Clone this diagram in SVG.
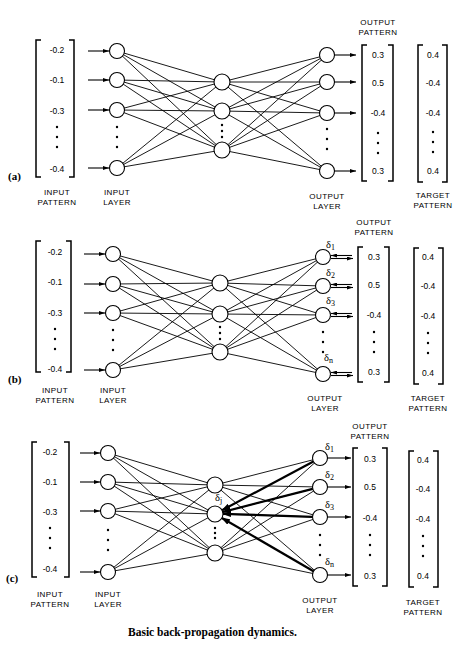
<svg xmlns="http://www.w3.org/2000/svg" width="475" height="663" viewBox="0 0 475 663">
<style>
.bg{fill:#fff}
.n{fill:#fff;stroke:#000;stroke-width:1.1}
.w{fill:none;stroke:#000;stroke-width:0.9}
.a{fill:none;stroke:#000;stroke-width:1.1}
.bk{fill:none;stroke:#000;stroke-width:2.2}
.br{fill:none;stroke:#000;stroke-width:1.5}
.v{font-family:"Liberation Sans",Arial,sans-serif;font-size:8.5px;text-anchor:middle;fill:#000}
.l{font-family:"Liberation Sans",Arial,sans-serif;font-size:8px;text-anchor:middle;letter-spacing:0.4px;fill:#000}
.d{font-family:"Liberation Serif","Times New Roman",serif;font-size:10.5px;fill:#000}
.p{font-family:"Liberation Serif","Times New Roman",serif;font-size:11px;font-weight:bold;fill:#000}
.cap{font-family:"Liberation Serif","Times New Roman",serif;font-size:11.5px;font-weight:bold;fill:#000}
.dot{fill:#000}
</style>
<defs>
<marker id="ah" markerUnits="userSpaceOnUse" markerWidth="6" markerHeight="4" refX="6" refY="2" orient="auto"><path d="M0,0L6,2L0,4z" fill="#000"/></marker>
<marker id="ahb" markerUnits="userSpaceOnUse" markerWidth="9" markerHeight="6" refX="8" refY="3" orient="auto"><path d="M0,0L9,3L0,6z" fill="#000"/></marker>
<g id="dots3"><circle cx="0" cy="0" r="1.2"/><circle cx="0" cy="10" r="1.2"/><circle cx="0" cy="20" r="1.2"/></g>
</defs>
<rect class="bg" x="0" y="0" width="475" height="663"/>

<g id="connectors">
<!-- panel a -->
<path class="w" d="M117 51L222 82M117 51L222 111M117 51L222 150M117 80L222 82M117 80L222 111M117 80L222 150M117 110L222 82M117 110L222 111M117 110L222 150M117 168L222 82M117 168L222 111M117 168L222 150"/>
<path class="w" d="M222 82L327 55M222 82L327 82M222 82L327 113M222 82L327 171M222 111L327 55M222 111L327 82M222 111L327 113M222 111L327 171M222 150L327 55M222 150L327 82M222 150L327 113M222 150L327 171"/>
<path class="a" marker-end="url(#ah)" d="M88 51H109"/>
<path class="a" marker-end="url(#ah)" d="M88 80H109"/>
<path class="a" marker-end="url(#ah)" d="M88 110H109"/>
<path class="a" marker-end="url(#ah)" d="M88 168H109"/>
<path class="a" marker-end="url(#ah)" d="M335 55H356"/>
<path class="a" marker-end="url(#ah)" d="M335 82H356"/>
<path class="a" marker-end="url(#ah)" d="M335 113H356"/>
<path class="a" marker-end="url(#ah)" d="M335 171H356"/>
<!-- panel b -->
<path class="w" d="M113 254L220 283M113 254L220 314M113 254L220 352M113 284L220 283M113 284L220 314M113 284L220 352M113 313L220 283M113 313L220 314M113 313L220 352M113 370L220 283M113 370L220 314M113 370L220 352"/>
<path class="w" d="M220 283L323 257M220 283L323 286M220 283L323 315M220 283L323 374M220 314L323 257M220 314L323 286M220 314L323 315M220 314L323 374M220 352L323 257M220 352L323 286M220 352L323 315M220 352L323 374"/>
<path class="a" marker-end="url(#ah)" d="M84 254H105"/>
<path class="a" marker-end="url(#ah)" d="M84 284H105"/>
<path class="a" marker-end="url(#ah)" d="M84 313H105"/>
<path class="a" marker-end="url(#ah)" d="M84 370H105"/>
<path class="a" marker-end="url(#ah)" d="M352 255.5H331"/>
<path class="a" marker-end="url(#ah)" d="M331 258.5H353"/>
<path class="a" marker-end="url(#ah)" d="M352 284.5H331"/>
<path class="a" marker-end="url(#ah)" d="M331 287.5H353"/>
<path class="a" marker-end="url(#ah)" d="M352 313.5H331"/>
<path class="a" marker-end="url(#ah)" d="M331 316.5H353"/>
<path class="a" marker-end="url(#ah)" d="M352 372.5H331"/>
<path class="a" marker-end="url(#ah)" d="M331 375.5H353"/>
<!-- panel c -->
<path class="w" d="M108 453L215 485M108 453L215 514M108 453L215 553M108 482L215 485M108 482L215 514M108 482L215 553M108 511L215 485M108 511L215 514M108 511L215 553M108 572L215 485M108 572L215 514M108 572L215 553"/>
<path class="w" d="M215 485L320 458M215 485L320 487M215 485L320 517M215 485L320 575M215 514L320 458M215 514L320 487M215 514L320 517M215 514L320 575M215 553L320 458M215 553L320 487M215 553L320 517M215 553L320 575"/>
<path class="a" marker-end="url(#ah)" d="M80 453H100"/>
<path class="a" marker-end="url(#ah)" d="M80 482H100"/>
<path class="a" marker-end="url(#ah)" d="M80 511H100"/>
<path class="a" marker-end="url(#ah)" d="M80 572H100"/>
<path class="a" marker-end="url(#ah)" d="M328 458H351"/>
<path class="a" marker-end="url(#ah)" d="M328 487H351"/>
<path class="a" marker-end="url(#ah)" d="M328 517H351"/>
<path class="a" marker-end="url(#ah)" d="M328 575H351"/>
<path class="bk" marker-end="url(#ahb)" d="M313.4 461.5L222.1 510.2"/>
<path class="bk" marker-end="url(#ahb)" d="M312.7 488.9L222.8 512"/>
<path class="bk" marker-end="url(#ahb)" d="M312.5 516.8L223 513.8"/>
<path class="bk" marker-end="url(#ahb)" d="M313.5 571.2L221.9 518"/>
</g>

<!-- ===== Panel (a) ===== -->
<g id="a-label"><text class="p" x="8" y="180">(a)</text></g>
<g id="a-input-pattern">
<path class="br" d="M41 40H36V177H41M69 40H74V177H69"/>
<text class="v" x="57" y="53">-0.2</text>
<text class="v" x="57" y="83">-0.1</text>
<text class="v" x="57" y="114">-0.3</text>
<use href="#dots3" x="57" y="127"/>
<text class="v" x="57" y="172">-0.4</text>
<text class="l" x="57" y="195">INPUT</text>
<text class="l" x="57" y="205">PATTERN</text>
</g>
<g id="a-in1"><circle class="n" cx="117" cy="51" r="7.5"/></g>
<g id="a-in2"><circle class="n" cx="117" cy="80" r="7.5"/></g>
<g id="a-in3"><circle class="n" cx="117" cy="110" r="7.5"/></g>
<g id="a-in4"><circle class="n" cx="117" cy="168" r="7.5"/></g>
<g id="a-input-layer"><use href="#dots3" x="117" y="127"/>
<text class="l" x="117" y="195">INPUT</text><text class="l" x="117" y="205">LAYER</text></g>
<g id="a-h1"><circle class="n" cx="222" cy="82" r="8"/></g>
<g id="a-h2"><circle class="n" cx="222" cy="111" r="8"/></g>
<g id="a-h3"><circle class="n" cx="222" cy="150" r="8"/></g>
<g id="a-hidden-dots"><circle class="dot" cx="222" cy="125" r="1.2"/><circle class="dot" cx="222" cy="131" r="1.2"/><circle class="dot" cx="222" cy="137" r="1.2"/></g>
<g id="a-o1"><circle class="n" cx="327" cy="55" r="7.5"/></g>
<g id="a-o2"><circle class="n" cx="327" cy="82" r="7.5"/></g>
<g id="a-o3"><circle class="n" cx="327" cy="113" r="7.5"/></g>
<g id="a-o4"><circle class="n" cx="327" cy="171" r="7.5"/></g>
<g id="a-output-layer"><use href="#dots3" x="327" y="129"/>
<text class="l" x="327" y="199">OUTPUT</text><text class="l" x="327" y="209">LAYER</text></g>
<g id="a-output-pattern">
<text class="l" x="378" y="25">OUTPUT</text><text class="l" x="378" y="35">PATTERN</text>
<path class="br" d="M367 45H362V181H367M388 45H393V181H388"/>
<text class="v" x="378" y="58">0.3</text>
<text class="v" x="378" y="86">0.5</text>
<text class="v" x="378" y="116">-0.4</text>
<use href="#dots3" x="378" y="133"/>
<text class="v" x="378" y="174">0.3</text>
</g>
<g id="a-target-pattern">
<path class="br" d="M423 45H418V182H423M442 45H447V182H442"/>
<text class="v" x="433" y="58">0.4</text>
<text class="v" x="433" y="86">-0.4</text>
<text class="v" x="433" y="116">-0.4</text>
<use href="#dots3" x="433" y="132"/>
<text class="v" x="433" y="174">0.4</text>
<text class="l" x="433" y="198">TARGET</text><text class="l" x="433" y="208">PATTERN</text>
</g>

<!-- ===== Panel (b) ===== -->
<g id="b-label"><text class="p" x="8" y="383">(b)</text></g>
<g id="b-input-pattern">
<path class="br" d="M41 241H36V372H41M66 241H71V372H66"/>
<text class="v" x="55" y="255">-0.2</text>
<text class="v" x="55" y="285">-0.1</text>
<text class="v" x="55" y="316">-0.3</text>
<use href="#dots3" x="55" y="329"/>
<text class="v" x="55" y="372">-0.4</text>
<text class="l" x="55" y="393">INPUT</text>
<text class="l" x="55" y="403">PATTERN</text>
</g>
<g id="b-in1"><circle class="n" cx="113" cy="254" r="7.5"/></g>
<g id="b-in2"><circle class="n" cx="113" cy="284" r="7.5"/></g>
<g id="b-in3"><circle class="n" cx="113" cy="313" r="7.5"/></g>
<g id="b-in4"><circle class="n" cx="113" cy="370" r="7.5"/></g>
<g id="b-input-layer"><use href="#dots3" x="113" y="330"/>
<text class="l" x="113" y="393">INPUT</text><text class="l" x="113" y="403">LAYER</text></g>
<g id="b-h1"><circle class="n" cx="220" cy="283" r="8"/></g>
<g id="b-h2"><circle class="n" cx="220" cy="314" r="8"/></g>
<g id="b-h3"><circle class="n" cx="220" cy="352" r="8"/></g>
<g id="b-hidden-dots"><circle class="dot" cx="220" cy="327" r="1.2"/><circle class="dot" cx="220" cy="333" r="1.2"/><circle class="dot" cx="220" cy="339" r="1.2"/></g>
<g id="b-o1"><circle class="n" cx="323" cy="257" r="7.5"/><text class="d" x="326" y="248">δ<tspan font-size="8" dy="2">1</tspan></text></g>
<g id="b-o2"><circle class="n" cx="323" cy="286" r="7.5"/><text class="d" x="326" y="276">δ<tspan font-size="8" dy="2">2</tspan></text></g>
<g id="b-o3"><circle class="n" cx="323" cy="315" r="7.5"/><text class="d" x="326" y="304">δ<tspan font-size="8" dy="2">3</tspan></text></g>
<g id="b-o4"><circle class="n" cx="323" cy="374" r="7.5"/><text class="d" x="324" y="361">δ<tspan font-size="8" dy="2">n</tspan></text></g>
<g id="b-output-layer"><use href="#dots3" x="323" y="332"/>
<text class="l" x="325" y="401">OUTPUT</text><text class="l" x="325" y="411">LAYER</text></g>
<g id="b-output-pattern">
<text class="l" x="374" y="225">OUTPUT</text><text class="l" x="374" y="235">PATTERN</text>
<path class="br" d="M363 247H358V382H363M384 247H389V382H384"/>
<text class="v" x="374" y="260">0.3</text>
<text class="v" x="374" y="288">0.5</text>
<text class="v" x="374" y="318">-0.4</text>
<use href="#dots3" x="374" y="332"/>
<text class="v" x="374" y="375">0.3</text>
</g>
<g id="b-target-pattern">
<path class="br" d="M419 248H414V384H419M438 248H443V384H438"/>
<text class="v" x="428" y="260">0.4</text>
<text class="v" x="428" y="289">-0.4</text>
<text class="v" x="428" y="319">-0.4</text>
<use href="#dots3" x="428" y="333"/>
<text class="v" x="428" y="376">0.4</text>
<text class="l" x="428" y="401">TARGET</text><text class="l" x="428" y="411">PATTERN</text>
</g>

<!-- ===== Panel (c) ===== -->
<g id="c-label"><text class="p" x="6" y="582">(c)</text></g>
<g id="c-input-pattern">
<path class="br" d="M37 442H32V577H37M64 442H69V577H64"/>
<text class="v" x="50" y="455">-0.2</text>
<text class="v" x="50" y="485">-0.1</text>
<text class="v" x="50" y="515">-0.3</text>
<use href="#dots3" x="50" y="528"/>
<text class="v" x="50" y="572">-0.4</text>
<text class="l" x="50" y="597">INPUT</text>
<text class="l" x="50" y="607">PATTERN</text>
</g>
<g id="c-in1"><circle class="n" cx="108" cy="453" r="7.5"/></g>
<g id="c-in2"><circle class="n" cx="108" cy="482" r="7.5"/></g>
<g id="c-in3"><circle class="n" cx="108" cy="511" r="7.5"/></g>
<g id="c-in4"><circle class="n" cx="108" cy="572" r="7.5"/></g>
<g id="c-input-layer"><use href="#dots3" x="108" y="530"/>
<text class="l" x="108" y="597">INPUT</text><text class="l" x="108" y="607">LAYER</text></g>
<g id="c-h1"><circle class="n" cx="215" cy="485" r="8"/></g>
<g id="c-h2"><circle class="n" cx="215" cy="514" r="8"/><text class="d" x="215" y="501">δ<tspan font-size="8" dy="2">j</tspan></text></g>
<g id="c-h3"><circle class="n" cx="215" cy="553" r="8"/></g>
<g id="c-hidden-dots"><circle class="dot" cx="215" cy="528" r="1.2"/><circle class="dot" cx="215" cy="533" r="1.2"/><circle class="dot" cx="215" cy="538" r="1.2"/></g>
<g id="c-o1"><circle class="n" cx="320" cy="458" r="7.5"/><text class="d" x="325" y="450">δ<tspan font-size="8" dy="2">1</tspan></text></g>
<g id="c-o2"><circle class="n" cx="320" cy="487" r="7.5"/><text class="d" x="325" y="478">δ<tspan font-size="8" dy="2">2</tspan></text></g>
<g id="c-o3"><circle class="n" cx="320" cy="517" r="7.5"/><text class="d" x="325" y="508">δ<tspan font-size="8" dy="2">3</tspan></text></g>
<g id="c-o4"><circle class="n" cx="320" cy="575" r="7.5"/><text class="d" x="325" y="565">δ<tspan font-size="8" dy="2">n</tspan></text></g>
<g id="c-output-layer"><use href="#dots3" x="320" y="535"/>
<text class="l" x="320" y="603">OUTPUT</text><text class="l" x="320" y="613">LAYER</text></g>
<g id="c-output-pattern">
<text class="l" x="370" y="429">OUTPUT</text><text class="l" x="370" y="439">PATTERN</text>
<path class="br" d="M358 448H353V586H358M382 448H387V586H382"/>
<text class="v" x="370" y="462">0.3</text>
<text class="v" x="370" y="490">0.5</text>
<text class="v" x="370" y="521">-0.4</text>
<use href="#dots3" x="370" y="535"/>
<text class="v" x="370" y="579">0.3</text>
</g>
<g id="c-target-pattern">
<path class="br" d="M414 451H409V587H414M433 451H438V587H433"/>
<text class="v" x="423" y="463">0.4</text>
<text class="v" x="423" y="492">-0.4</text>
<text class="v" x="423" y="522">-0.4</text>
<use href="#dots3" x="423" y="536"/>
<text class="v" x="423" y="579">0.4</text>
<text class="l" x="423" y="605">TARGET</text><text class="l" x="423" y="615">PATTERN</text>
</g>

<g id="caption"><text class="cap" x="128" y="636">Basic back-propagation dynamics.</text></g>
</svg>
